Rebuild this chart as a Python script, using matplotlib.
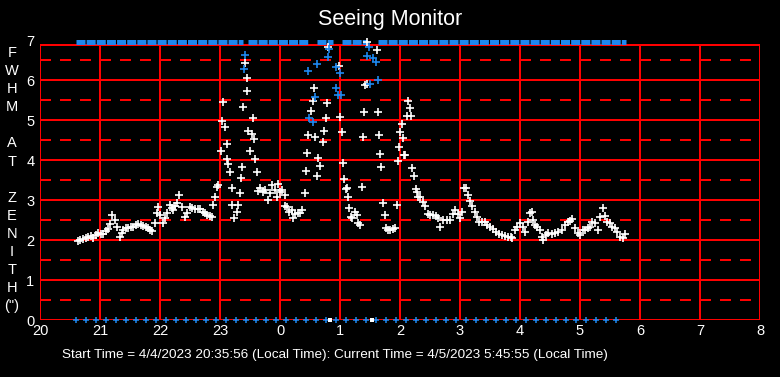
import matplotlib
matplotlib.use("Agg")
import matplotlib.pyplot as plt

plt.rcParams['font.family'] = ['Liberation Sans', 'DejaVu Sans']
plt.rcParams['lines.scale_dashes'] = False

# FWHM samples (clock hour, arcsec)
white_t = [20.63, 20.67, 20.72, 20.77, 20.80, 20.85, 20.88, 20.93, 20.97, 21.02,
           21.05, 21.10, 21.13, 21.17, 21.20, 21.25, 21.28, 21.33, 21.37, 21.38,
           21.43, 21.47, 21.52, 21.55, 21.60, 21.63, 21.68, 21.72, 21.77, 21.80,
           21.83, 21.87, 21.92, 21.95, 21.97, 22.00, 22.05, 22.08, 22.12, 22.17,
           22.20, 22.22, 22.25, 22.28, 22.32, 22.37, 22.42, 22.45, 22.50, 22.53,
           22.58, 22.63, 22.67, 22.72, 22.75, 22.78, 22.83, 22.87, 22.88, 22.92,
           22.95, 22.97, 23.02, 23.03, 23.05, 23.08, 23.12, 23.12, 23.13, 23.17,
           23.20, 23.20, 23.23, 23.28, 23.30, 23.33, 23.35, 23.37, 23.38, 23.42,
           23.45, 23.45, 23.47, 23.50, 23.53, 23.55, 23.57, 23.58, 23.62, 23.63,
           23.67, 23.72, 23.75, 23.80, 23.83, 23.87, 23.92, 23.95, 23.97, 0.00,
           0.03, 0.08, 0.08, 0.12, 0.15, 0.20, 0.22, 0.25, 0.30, 0.33,
           0.37, 0.42, 0.43, 0.45, 0.47, 0.52, 0.55, 0.57, 0.58, 0.62,
           0.63, 0.67, 0.72, 0.73, 0.77, 0.78, 0.80, 0.98, 1.00, 1.03,
           1.05, 1.07, 1.10, 1.12, 1.13, 1.15, 1.18, 1.20, 1.25, 1.28,
           1.30, 1.33, 1.37, 1.38, 1.40, 1.42, 1.45, 1.45, 1.62, 1.63,
           1.65, 1.67, 1.68, 1.72, 1.75, 1.77, 1.80, 1.83, 1.88, 1.92,
           1.95, 1.97, 1.98, 2.00, 2.03, 2.05, 2.07, 2.08, 2.12, 2.13,
           2.17, 2.18, 2.20, 2.23, 2.27, 2.28, 2.30, 2.33, 2.38, 2.42,
           2.47, 2.50, 2.55, 2.60, 2.63, 2.67, 2.72, 2.78, 2.83, 2.88,
           2.92, 2.97, 3.00, 3.03, 3.07, 3.10, 3.13, 3.17, 3.20, 3.25,
           3.28, 3.32, 3.37, 3.42, 3.45, 3.50, 3.55, 3.60, 3.65, 3.70,
           3.75, 3.80, 3.85, 3.87, 3.92, 3.95, 4.00, 4.05, 4.08, 4.13,
           4.17, 4.20, 4.22, 4.25, 4.28, 4.33, 4.37, 4.38, 4.43, 4.47,
           4.53, 4.58, 4.63, 4.70, 4.75, 4.80, 4.83, 4.87, 4.92, 4.97,
           5.00, 5.05, 5.08, 5.13, 5.17, 5.20, 5.25, 5.30, 5.33, 5.38,
           5.42, 5.45, 5.50, 5.53, 5.58, 5.62, 5.67, 5.72, 5.75]
white_v = [1.98, 2.00, 2.02, 2.05, 2.08, 2.10, 2.05, 2.12, 2.17, 2.15,
           2.15, 2.22, 2.27, 2.40, 2.62, 2.50, 2.32, 2.08, 2.18, 2.25,
           2.30, 2.30, 2.32, 2.33, 2.38, 2.40, 2.38, 2.35, 2.32, 2.30,
           2.25, 2.23, 2.42, 2.68, 2.82, 2.62, 2.42, 2.55, 2.68, 2.88,
           2.80, 2.75, 2.85, 2.92, 3.12, 2.82, 2.58, 2.68, 2.82, 2.80,
           2.78, 2.78, 2.78, 2.70, 2.68, 2.62, 2.60, 2.58, 2.88, 3.08,
           3.33, 3.38, 4.22, 4.98, 5.45, 4.82, 4.40, 4.02, 3.90, 3.70,
           3.30, 2.88, 2.55, 2.70, 2.88, 3.18, 3.55, 3.82, 5.32, 6.42,
           6.05, 5.72, 4.72, 4.22, 4.65, 5.05, 4.52, 4.02, 3.70, 3.22,
           3.30, 3.20, 3.25, 3.00, 3.18, 3.38, 3.25, 3.08, 3.40, 3.20,
           3.25, 3.12, 2.85, 2.82, 2.70, 2.75, 2.55, 2.65, 2.68, 2.68,
           2.75, 3.18, 3.72, 4.18, 4.62, 5.22, 5.47, 5.80, 4.58, 3.60,
           4.05, 3.85, 4.45, 4.72, 5.05, 5.42, 6.83, 6.35, 5.08, 4.70,
           3.92, 3.52, 3.28, 3.30, 3.08, 2.80, 2.58, 2.55, 2.70, 2.62,
           2.42, 2.38, 3.32, 4.58, 5.20, 5.88, 6.95, 5.90, 6.75, 5.20,
           4.62, 4.15, 3.82, 2.92, 2.62, 2.30, 2.25, 2.25, 2.28, 2.30,
           2.88, 3.98, 4.32, 4.70, 4.90, 4.55, 4.12, 4.12, 5.10, 5.48,
           5.30, 5.10, 3.80, 3.60, 3.28, 3.20, 3.08, 3.08, 2.95, 2.85,
           2.65, 2.62, 2.62, 2.60, 2.55, 2.32, 2.50, 2.50, 2.50, 2.65,
           2.75, 2.65, 2.55, 2.70, 3.30, 3.30, 3.12, 2.98, 2.85, 2.70,
           2.58, 2.45, 2.45, 2.45, 2.38, 2.32, 2.28, 2.20, 2.15, 2.12,
           2.10, 2.08, 2.08, 2.05, 2.25, 2.32, 2.42, 2.32, 2.20, 2.45,
           2.68, 2.70, 2.50, 2.38, 2.32, 2.25, 2.08, 2.00, 2.12, 2.18,
           2.15, 2.18, 2.20, 2.25, 2.38, 2.45, 2.48, 2.52, 2.30, 2.18,
           2.12, 2.25, 2.25, 2.30, 2.32, 2.45, 2.42, 2.25, 2.58, 2.80,
           2.60, 2.45, 2.42, 2.32, 2.30, 2.20, 2.08, 2.05, 2.15]

# blue samples inside the spikes
blue_t = [23.40, 23.42, 0.47, 0.48, 0.55, 0.58, 0.62, 0.80, 0.82, 0.93,
          0.93, 0.97, 1.00, 1.02, 1.45, 1.48, 1.50, 1.55, 1.60, 1.63]
blue_v = [6.28, 6.62, 6.22, 5.05, 4.95, 5.58, 6.40, 6.58, 6.78, 6.32,
          5.80, 5.62, 6.18, 5.62, 6.60, 6.83, 5.90, 6.55, 6.45, 6.00]

# blue markers along the zero line
zero_times = ["20:36", "20:46", "20:56", "21:06", "21:16", "21:26", "21:36", "21:46",
              "21:56", "22:06", "22:16", "22:26", "22:36", "22:46", "22:56", "23:06",
              "23:16", "23:26", "23:36", "23:46", "23:56", "0:06", "0:16", "0:26",
              "0:36", "0:46", "0:56", "1:06", "1:16", "1:26", "1:36", "1:46",
              "1:56", "2:06", "2:16", "2:26", "2:36", "2:46", "2:56", "3:06",
              "3:16", "3:26", "3:36", "3:46", "3:56", "4:06", "4:16", "4:26",
              "4:36", "4:46", "4:56", "5:06", "5:16", "5:26", "5:36"]
# white marks sitting on the zero line
zero_white_t = [0.83, 1.53]

# stretches of the blue band along the top
band_start = [20.60, 23.47, 0.62, 1.03, 1.63]
band_end = [23.38, 0.47, 0.88, 1.45, 5.77]

x_ticks = list(range(20, 33))
x_labels = [str(h % 24) for h in x_ticks]
y_ticks = list(range(0, 8))

ylabel_letters = ["F", "W", "H", "M", "A", "T", "Z", "E", "N", "I", "T", "H", '(")']
ylabel_rows = [0, 1, 2, 3, 5, 6, 8, 9, 10, 11, 12, 13, 14]

blue = '#1E88F0'


def to_axis(h):
    return h + 24 if h < 12 else h


def hm(s):
    h, m = s.split(":")
    return to_axis(int(h) + int(m) / 60.0)


fig = plt.figure(figsize=(7.8, 3.77), dpi=100, facecolor='black')
ax = fig.add_axes([40 / 780, 57 / 377, 720 / 780, 280 / 377])
ax.set_facecolor('black')
ax.set_xlim(20, 32)
ax.set_ylim(0, 7)
for s in ax.spines.values():
    s.set_visible(False)

top = 6.875
ax.hlines(list(range(0, 7)) + [top], 20, 32, colors='red', lw=1.15,
          antialiased=False, zorder=1)
ax.hlines([k + 0.5 for k in range(7)], 20, 32, colors='red', lw=1.15,
          linestyles=(0, (7.9, 6.5)), antialiased=False, zorder=1)
ax.vlines(x_ticks, 0, top, colors='red', lw=1.15, antialiased=False, zorder=1)

ax.set_xticks(x_ticks)
ax.set_xticklabels(x_labels)
ax.set_yticks(y_ticks)
ax.tick_params(length=0, colors='white', labelsize=10.5)
ax.tick_params(axis='x', pad=3)
ax.tick_params(axis='y', pad=4)

# top band
for a, b in zip(band_start, band_end):
    ax.plot([to_axis(a), to_axis(b)], [6.94, 6.94], color=blue, lw=3.6,
            ls=(0, (6.5, 0.8)), dash_capstyle='butt', clip_on=False, zorder=3)

ax.plot([hm(t) for t in zero_times], [0] * len(zero_times), '+', color=blue,
        ms=5, mew=1.1, clip_on=False, zorder=4)
ax.plot([to_axis(t) for t in zero_white_t], [0] * len(zero_white_t), 's',
        color='white', ms=3.5, mew=0, clip_on=False, zorder=4)
ax.plot([to_axis(t) for t in white_t], white_v, '+', color='white',
        ms=6, mew=1.2, clip_on=False, zorder=5)
ax.plot([to_axis(t) for t in blue_t], blue_v, '+', color=blue,
        ms=6, mew=1.2, clip_on=False, zorder=6)

fig.text(390 / 780, 1 - 20 / 377, "Seeing Monitor", color='white',
         fontsize=15.5, ha='center', va='center')
for letter, row in zip(ylabel_letters, ylabel_rows):
    fig.text(12 / 780, 1 - (53 + row * 18.1) / 377, letter, color='white',
             fontsize=10.5, ha='center', va='center')
fig.text(62 / 780, 1 - 355 / 377,
         "Start Time = 4/4/2023 20:35:56 (Local Time): Current Time = 4/5/2023 5:45:55 (Local Time)",
         color='white', fontsize=9.7, ha='left', va='center')

fig.savefig("out.png", dpi=100, facecolor='black')
